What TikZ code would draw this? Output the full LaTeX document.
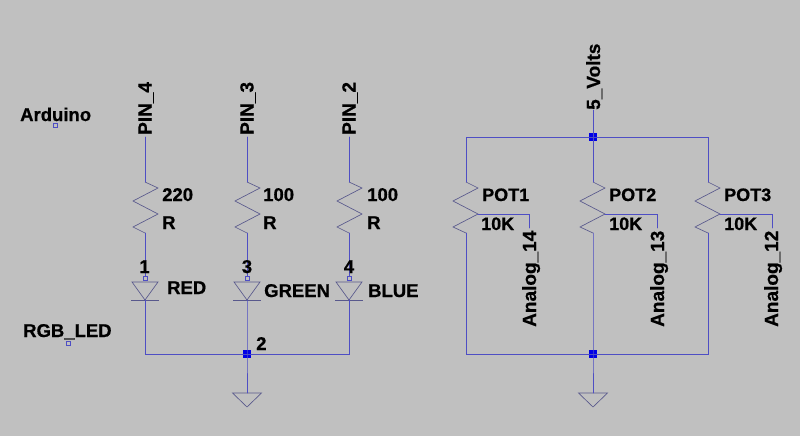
\documentclass[tikz,border=0pt]{standalone}
\usepackage{fontspec}
\setmainfont[BoldFeatures={FakeBold=0.7}]{Liberation Sans}
\definecolor{bgc}{RGB}{192,192,192}
\definecolor{wirec}{RGB}{78,78,196}
\definecolor{symc}{RGB}{88,88,140}
\definecolor{juncc}{RGB}{0,0,230}
\tikzset{
 wire/.style={draw=wirec,line width=0.75pt,line cap=round},
 sym/.style={draw=symc,line width=0.65pt,line join=miter},
 lbl/.style={font=\bfseries\fontsize{18.5}{20}\selectfont,text=black,inner sep=0pt,anchor=base west},
 potlbl/.style={lbl,font=\bfseries\fontsize{18}{20}\selectfont},
 pinlbl/.style={lbl,font=\bfseries\fontsize{19}{20}\selectfont,rotate=90},
 junc/.style={fill=juncc,draw=none,minimum size=7.5pt,inner sep=0pt,rectangle},
 ticknode/.style={draw=wirec,line width=0.5pt,fill=none,minimum size=4pt,inner sep=0pt,rectangle}}
% resistor body between named coordinates: #1 name, #2 x, swing right #3, swing left #4
\newcommand{\myres}[4]{%
 \coordinate (#1top) at (#2,-182);
 \coordinate (#1bot) at (#2,-233);
 \coordinate (#1wip) at (#2+#3,-214);
 \draw[sym] (#1top) -- (#2+#3,-188) -- (#2-#4,-201) -- (#1wip) -- (#2-#4,-227) -- (#1bot);}
\newcommand{\myled}[2]{%
 \coordinate (#1top) at (#2,-282);
 \coordinate (#1bot) at (#2,-300);
 \draw[sym] (#2-13,-282) -- (#2+13,-282) -- (#1bot) -- cycle;
 \draw[sym] (#2-14,-300) -- (#2+14,-300);}
\newcommand{\mygnd}[2]{%
 \coordinate (#1) at (#2,-393);
 \draw[sym] (#2-14.5,-393) -- (#2+14.5,-393) -- (#2,-407) -- cycle;}
\begin{document}
\begin{tikzpicture}[x=1pt,y=1pt]
\useasboundingbox[fill=bgc] (0,-436) rectangle (800,0);
% free labels
\node[lbl] (arduino) at (20,-121) {Arduino};
\node[ticknode] (arduinoT) at (55.5,-125) {};
\node[lbl] (rgbled) at (23,-337) {RGB\_LED};
\node[ticknode] (rgbT) at (68.5,-343) {};
% pin labels
\node[pinlbl] (pin4) at (151.5,-135) {PIN\_4};
\node[pinlbl] (pin3) at (253.5,-135) {PIN\_3};
\node[pinlbl] (pin2) at (355.5,-135) {PIN\_2};
\coordinate (p4) at (145,-137);
\coordinate (p3) at (247,-137);
\coordinate (p2) at (349,-137);
% resistors
\myres{ra}{145}{13}{12}
\myres{rb}{247}{13}{12}
\myres{rc}{349}{13}{12}
\draw[wire] (p4) -- (ratop);
\draw[wire] (p3) -- (rbtop);
\draw[wire] (p2) -- (rctop);
\node[lbl] (va) at (162,-201) {220};
\node[lbl] (na) at (162,-229) {R};
\node[lbl] (vb) at (263,-201) {100};
\node[lbl] (nb) at (263,-229) {R};
\node[lbl] (vc) at (367,-201) {100};
\node[lbl] (nc) at (367,-229) {R};
% LEDs
\myled{la}{145}
\myled{lb}{247}
\myled{lc}{349}
\node[ticknode] (ta) at (145,-278) {};
\node[ticknode] (tb) at (247,-278) {};
\node[ticknode] (tc) at (349,-278) {};
\draw[wire] (rabot) -- (ta);
\draw[wire] (rbbot) -- (tb);
\draw[wire] (rcbot) -- (tc);
\node[lbl,anchor=base] (n1) at (144.5,-273) {1};
\node[lbl,anchor=base] (n3) at (247,-273) {3};
\node[lbl,anchor=base] (n4) at (349,-273) {4};
\node[lbl] (red) at (167,-294) {RED};
\node[lbl] (green) at (264,-297) {GREEN};
\node[lbl] (blue) at (368,-297) {BLUE};
\node[lbl] (n2) at (256,-350) {2};
% LED common net
\node[junc] (j1) at (247,-354) {};
\mygnd{g1}{247}
\draw[wire] (labot) |- (j1.center);
\draw[wire] (lcbot) |- (j1.center);
\draw[wire] (lbbot) -- (j1.center) -- (g1);
% supply
\node[pinlbl] (volts) at (600,-110) {5\_Volts};
\coordinate (vs) at (593,-110);
\node[junc] (j2) at (593,-137) {};
\draw[wire] (vs) -- (j2.center);
% pots
\myres{pa}{466}{12}{13}
\myres{pb}{593}{12}{13}
\myres{pc}{708}{12}{13}
\node[junc] (j3) at (593,-354) {};
\mygnd{g2}{593}
\draw[wire] (patop) |- (j2.center);
\draw[wire] (pctop) |- (j2.center);
\draw[wire] (j2.center) -- (pbtop);
\draw[wire] (pabot) |- (j3.center);
\draw[wire] (pcbot) |- (j3.center);
\draw[wire] (pbbot) -- (j3.center) -- (g2);
% wipers
\coordinate (wa) at (529,-228);
\coordinate (wb) at (657,-228);
\coordinate (wc) at (772,-228);
\draw[wire] (pawip) -| (wa);
\draw[wire] (pbwip) -| (wb);
\draw[wire] (pcwip) -| (wc);
\node[potlbl] (pota) at (482,-201) {POT1};
\node[potlbl] (ka) at (481,-230) {10K};
\node[potlbl] (potb) at (609,-201) {POT2};
\node[potlbl] (kb) at (609,-230) {10K};
\node[potlbl] (potc) at (724,-201) {POT3};
\node[potlbl] (kc) at (724,-230) {10K};
\node[pinlbl] (an14) at (536,-327) {Analog\_14};
\node[pinlbl] (an13) at (664,-327) {Analog\_13};
\node[pinlbl] (an12) at (778,-327) {Analog\_12};
\end{tikzpicture}
\end{document}
